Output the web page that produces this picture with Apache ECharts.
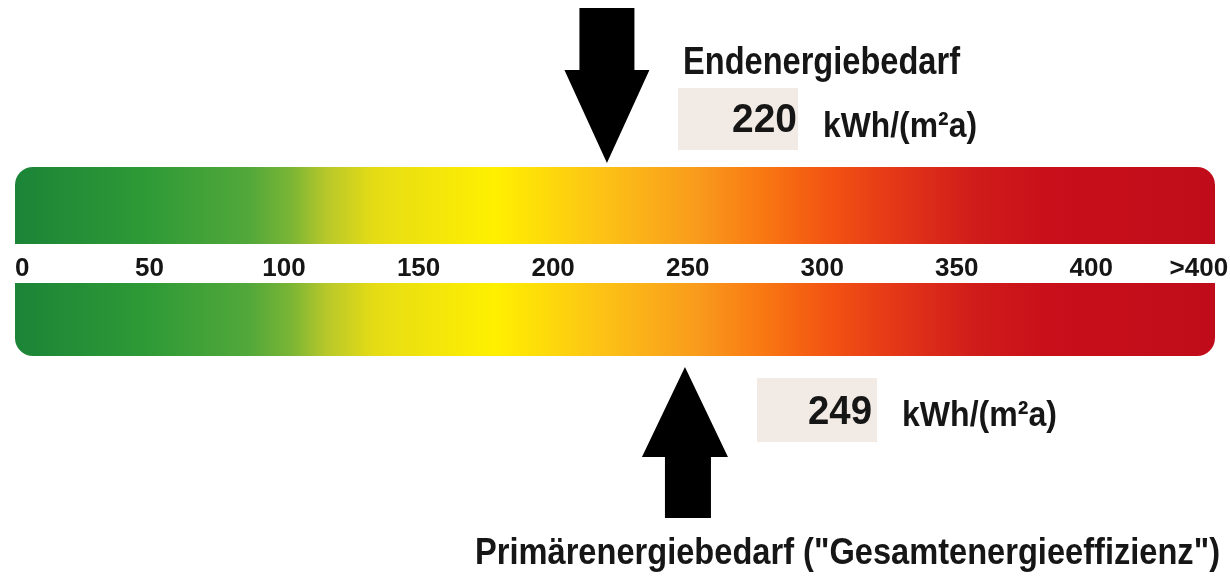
<!DOCTYPE html>
<html>
<head>
<meta charset="utf-8">
<script src="https://cdn.jsdelivr.net/npm/echarts@6/dist/echarts.min.js"></script>
<style>
  html, body { margin: 0; padding: 0; background: #fff; }
  #chart { width: 1230px; height: 577px; }
</style>
</head>
<body>
<div id="chart"></div>
<script>
// scale in kWh/(m²a)
const scaleMax = 446;
const tickValues = [0, 50, 100, 150, 200, 250, 300, 350, 400, 440];
const tickLabels = ['0', '50', '100', '150', '200', '250', '300', '350', '400', '>400'];

// the two readings
const endEnergyTitle = 'Endenergiebedarf';
const endEnergyValue = 220;
const primaryEnergyTitle = 'Primärenergiebedarf ("Gesamtenergieeffizienz")';
const primaryEnergyValue = 249;
const unit = 'kWh/(m²a)';

const FONT = '"Liberation Sans", Arial, sans-serif';

// green -> yellow -> red
const bandStops = [
  [0, '#1b8437'],
  [0.11, '#2e9a36'],
  [0.195, '#52a83a'],
  [0.23, '#7ab535'],
  [0.26, '#b8c82a'],
  [0.30, '#e6dc15'],
  [0.40, '#fff000'],
  [0.49, '#fcc216'],
  [0.57, '#f99a1c'],
  [0.62, '#f97a12'],
  [0.68, '#f25212'],
  [0.74, '#e23418'],
  [0.80, '#d01c1a'],
  [0.86, '#c80f1a'],
  [1, '#c00c1a']
];

function bandGradient() {
  return new echarts.graphic.LinearGradient(0, 0, 1, 0,
    bandStops.map(([offset, color]) => ({ offset, color })));
}

const labelMap = {};
tickValues.forEach((v, i) => { labelMap[v] = tickLabels[i]; });

// the original lettering is a condensed face; squeeze bold Liberation Sans to the same width
const measureCtx = document.createElement('canvas').getContext('2d');
function squeezedText(text, size, left, baseline, width) {
  const font = 'bold ' + size + 'px ' + FONT;
  measureCtx.font = font;
  const natural = measureCtx.measureText(text).width;
  return {
    type: 'text',
    x: left,
    y: baseline - size * 0.31,
    scaleX: width / natural,
    style: { text, font, fill: '#161616', verticalAlign: 'middle' }
  };
}

const chart = echarts.init(document.getElementById('chart'), null, { renderer: 'canvas' });

chart.setOption({
  backgroundColor: '#fff',
  animation: false,
  grid: [
    { left: 15, right: 15, top: 167, height: 77, outerBoundsMode: 'none' },
    { left: 15, right: 15, top: 283, height: 73, outerBoundsMode: 'none' }
  ],
  xAxis: [
    {
      gridIndex: 0,
      type: 'value',
      min: 0,
      max: scaleMax,
      position: 'bottom',
      axisLine: { show: false },
      axisTick: { show: false },
      splitLine: { show: false },
      axisLabel: {
        customValues: tickValues,
        formatter: (v) => labelMap[v] ?? '',
        color: '#151515',
        fontFamily: FONT,
        fontSize: 26,
        fontWeight: 'bold',
        margin: 12,
        alignMinLabel: 'left'
      }
    },
    { gridIndex: 1, type: 'value', min: 0, max: scaleMax, show: false }
  ],
  yAxis: [
    { gridIndex: 0, type: 'category', data: [endEnergyTitle], show: false },
    { gridIndex: 1, type: 'category', data: [primaryEnergyTitle], show: false }
  ],
  series: [
    {
      type: 'bar',
      xAxisIndex: 0,
      yAxisIndex: 0,
      barWidth: '100%',
      silent: true,
      data: [scaleMax],
      itemStyle: { color: bandGradient(), borderRadius: [18, 18, 0, 0] }
    },
    {
      type: 'bar',
      xAxisIndex: 1,
      yAxisIndex: 1,
      barWidth: '100%',
      silent: true,
      data: [scaleMax],
      itemStyle: { color: bandGradient(), borderRadius: [0, 0, 18, 18] }
    },
    {
      // arrow pointing down onto the top band
      type: 'scatter',
      xAxisIndex: 0,
      yAxisIndex: 0,
      clip: false,
      silent: true,
      symbol: 'path://M15,0L70,0L70,62L85,62L42.5,155L0,62L15,62Z',
      symbolSize: [85, 155],
      symbolOffset: [0, -120],
      itemStyle: { color: '#000', opacity: 1 },
      data: [[endEnergyValue, 0]]
    },
    {
      // arrow pointing up onto the bottom band
      type: 'scatter',
      xAxisIndex: 1,
      yAxisIndex: 1,
      clip: false,
      silent: true,
      symbol: 'path://M43,0L86,90L69,90L69,151L23,151L23,90L0,90Z',
      symbolSize: [86, 151],
      symbolOffset: [0, 123],
      itemStyle: { color: '#000', opacity: 1 },
      data: [[primaryEnergyValue, 0]]
    }
  ],
  graphic: [
    { type: 'rect', shape: { x: 678, y: 88, width: 120, height: 62 }, style: { fill: '#f2ebe5' } },
    { type: 'rect', shape: { x: 757, y: 378, width: 120, height: 64 }, style: { fill: '#f2ebe5' } },
    squeezedText(endEnergyTitle, 38, 683, 75, 277),
    squeezedText(String(endEnergyValue), 41, 732, 133, 65),
    squeezedText(unit, 35, 823, 138, 154),
    squeezedText(String(primaryEnergyValue), 41, 808, 425, 64),
    squeezedText(unit, 35, 902, 427, 155),
    squeezedText(primaryEnergyTitle, 37, 475, 565, 745)
  ]
});
</script>
</body>
</html>
